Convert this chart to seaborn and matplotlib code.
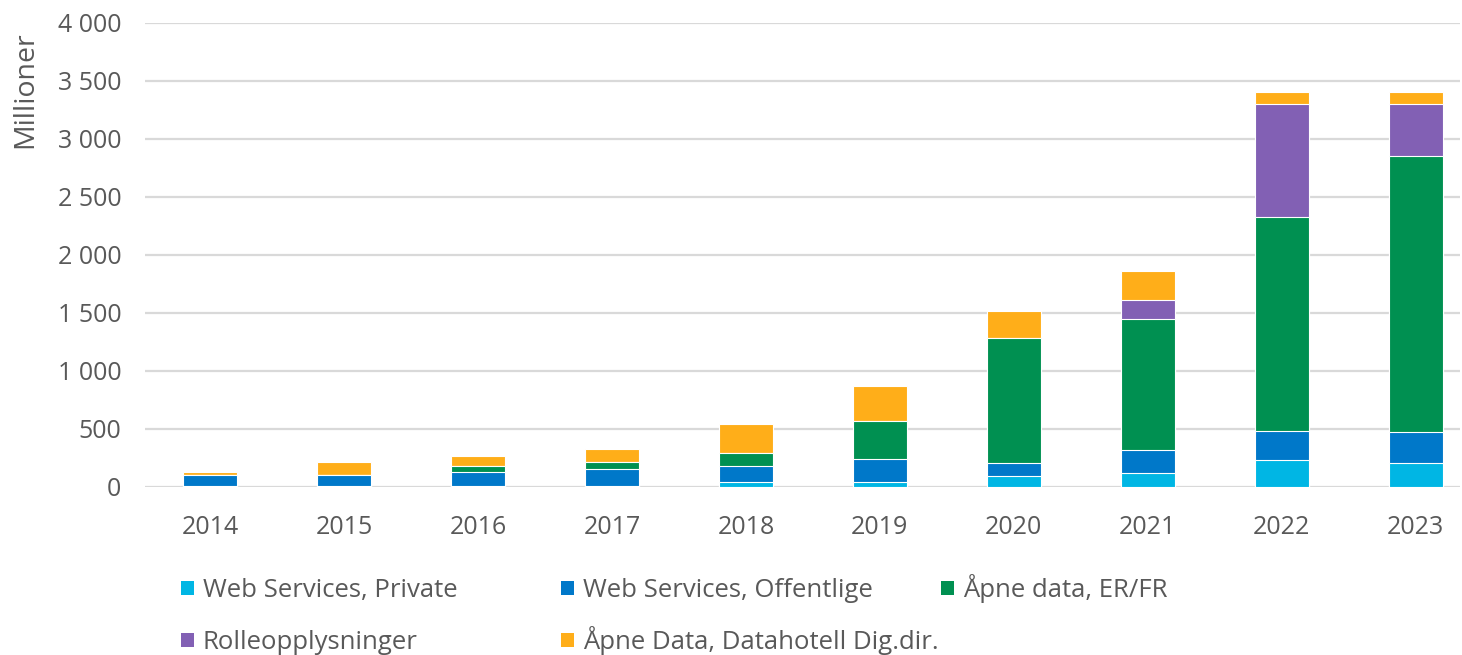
import numpy as np
import pandas as pd
import matplotlib
matplotlib.use("Agg")
import matplotlib.pyplot as plt
import matplotlib.ticker as mticker
from matplotlib.patches import Patch
import seaborn as sns

years = ["2014", "2015", "2016", "2017", "2018", "2019", "2020", "2021", "2022", "2023"]
ws_private = [8, 8, 10, 10, 43, 43, 95, 118, 234, 205]
ws_offentlige = [92, 92, 120, 146, 140, 195, 110, 199, 245, 273]
apne_er_fr = [0, 0, 55, 58, 108, 330, 1080, 1135, 1851, 2376]
rolle = [0, 0, 0, 0, 0, 0, 0, 164, 969, 444]
datahotell = [30, 112, 85, 111, 252, 307, 235, 250, 110, 110]

series = ["Web Services, Private", "Web Services, Offentlige", "Åpne data, ER/FR",
          "Rolleopplysninger", "Åpne Data, Datahotell Dig.dir."]
colors = ["#00B6E4", "#0078C9", "#009051", "#8260B4", "#FFAE19"]

df = pd.DataFrame({"year": years, series[0]: ws_private, series[1]: ws_offentlige,
                   series[2]: apne_er_fr, series[3]: rolle, series[4]: datahotell})
cum = df[series].cumsum(axis=1)
cum["year"] = df["year"]

sns.set_theme(style="white")
plt.rcParams["font.family"] = ["Open Sans", "DejaVu Sans"]
txt = "#595959"

fig = plt.figure(figsize=(14.62, 6.55), dpi=100)
ax = fig.add_axes([145 / 1462, 1 - 487 / 655, 1315 / 1462, 464 / 655])

# draw the cumulative totals from the top down so each layer shows
for name, col in reversed(list(zip(series, colors))):
    sns.barplot(data=cum, x="year", y=name, color=col, width=0.405, ax=ax,
                edgecolor="white", linewidth=0.8, saturation=1)

ax.set_ylim(0, 4000)
ax.set_xlim(-0.485, 9.33)
ax.yaxis.set_major_locator(mticker.MultipleLocator(500))
ax.yaxis.set_major_formatter(mticker.FuncFormatter(lambda v, p: f"{v:,.0f}".replace(",", " ")))
ax.grid(axis="y", color="#D9D9D9", linewidth=1.6)
ax.set_axisbelow(True)
for s in ax.spines.values():
    s.set_visible(False)
ax.tick_params(axis="both", length=0, labelsize=18, colors=txt)
ax.tick_params(axis="y", pad=17)
ax.tick_params(axis="x", pad=20)
ax.set_xlabel("")
ax.set_ylabel("")
fig.text(25 / 1462, 1 - 90 / 655, "Millioner", rotation=90, ha="center", va="center",
         fontsize=20.5, color=txt)

# legend entries placed on a fixed grid (Excel style), two rows
spots = [(181, 603), (561, 603), (941, 603), (181, 655), (561, 655)]
for i, (x, y) in enumerate(spots):
    h = Patch(facecolor=colors[i], edgecolor="none", label=series[i])
    fig.legend(handles=[h], loc="lower left", bbox_to_anchor=(x / 1462, 1 - y / 655),
               frameon=False, fontsize=18.5, labelcolor=txt, handlelength=0.5,
               handleheight=0.5, handletextpad=0.35, borderpad=0, borderaxespad=0)

fig.savefig("out.png", dpi=100)
